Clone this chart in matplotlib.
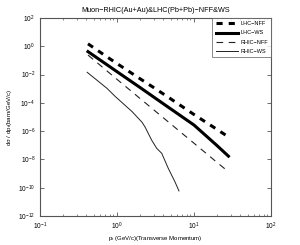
import matplotlib
matplotlib.use("Agg")
import matplotlib.pyplot as plt
import matplotlib.ticker as mticker
import numpy as np

plt.rcParams['font.family'] = ['Liberation Sans', 'DejaVu Sans']
plt.rcParams['mathtext.fontset'] = 'custom'
plt.rcParams['mathtext.rm'] = 'Liberation Sans'
plt.rcParams['mathtext.it'] = 'Liberation Sans:italic'

title = "Muon\u2212RHIC(Au+Au)&LHC(Pb+Pb)\u2212NFF&WS"
xlabel = r"p$_\mathrm{t}$ (GeV/c)(Transverse Momentum)"
ylabel = r"d$\mathrm{\sigma}$ / dp$_\mathrm{t}$(barn/GeV/c)"

lhc_nff_pt = [0.42, 0.7, 1, 2, 3, 5, 10, 20, 28]
lhc_nff = [1.5, 0.22, 0.06, 5e-3, 1.2e-3, 1.9e-4, 1.5e-5, 1.3e-6, 3.9e-7]

lhc_ws_pt = [0.42, 1, 2, 4.4, 10, 20, 28]
lhc_ws = [0.42, 1.6e-2, 1.2e-3, 6e-5, 2.7e-6, 9.3e-8, 1.7e-8]

rhic_nff_pt = [0.42, 1, 2, 5, 10, 20, 28]
rhic_nff = [0.24, 4.6e-3, 2e-4, 3.2e-6, 1.4e-7, 6e-9, 1.35e-9]

rhic_ws_pt = [0.41, 0.74, 0.95, 1.57, 2.11, 2.31, 2.82, 3.28, 3.81, 4.64, 5.66, 6.38]
rhic_ws = [1.45e-2, 1.07e-3, 2.8e-4, 2.4e-5, 4.3e-6, 2e-6, 2.3e-7, 6.1e-8, 2.7e-8,
           2.3e-9, 2.6e-10, 5.9e-11]

fig = plt.figure(figsize=(3.0, 2.45), dpi=100)
ax = fig.add_axes([40/300, 1-216/245, 231/300, 198/245])

ax.plot(lhc_nff_pt, lhc_nff, color='black', lw=2.2, ls=(0, (2, 2)), label='LHC\u2212NFF')
ax.plot(lhc_ws_pt, lhc_ws, color='black', lw=2.2, ls='-', label='LHC\u2212WS')
ax.plot(rhic_nff_pt, rhic_nff, color='#222222', lw=0.8, ls=(0, (6, 5)), label='RHIC\u2212NFF')
ax.plot(rhic_ws_pt, rhic_ws, color='#222222', lw=0.7, ls='-', label='RHIC\u2212WS')

ax.set_xscale('log')
ax.set_yscale('log')
ax.set_xlim(0.1, 100)
ax.set_ylim(1e-12, 1e2)
ax.set_xticks([0.1, 1, 10, 100])
ax.set_yticks([10.0**k for k in range(-12, 3, 2)])
ax.xaxis.set_minor_locator(mticker.LogLocator(base=10, subs=np.arange(2, 10)))
ax.yaxis.set_minor_locator(mticker.NullLocator())
ax.tick_params(which='both', direction='in', top=True, right=True, labelsize=4.8, colors='#333333', labelcolor='black')
ax.tick_params(which='major', length=3, width=0.5)
ax.tick_params(which='minor', length=1.5, width=0.4)
for s in ax.spines.values():
    s.set_color('#555555')
    s.set_linewidth(0.8)

ax.set_title(title, fontsize=5.2, pad=4)
ax.set_xlabel(xlabel, fontsize=4.3, labelpad=1)
ax.set_ylabel(ylabel, fontsize=4.4, labelpad=3)

leg = ax.legend(loc='upper right', fontsize=4.0, frameon=True, fancybox=False,
                edgecolor='#555555', handlelength=4.0, borderaxespad=0,
                labelspacing=0.75, handletextpad=0.4, borderpad=0.6)
leg.get_frame().set_linewidth(0.6)

fig.savefig('out.png', dpi=100)
